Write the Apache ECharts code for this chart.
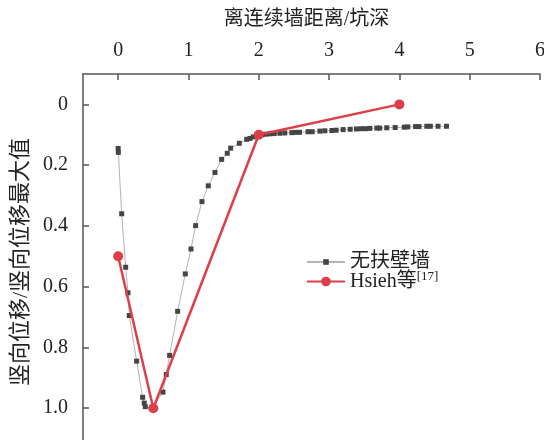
<!DOCTYPE html>
<html>
<head>
<meta charset="utf-8">
<style>
  html, body { margin: 0; padding: 0; background: #fff; }
  #chart { width: 544px; height: 440px; }
</style>
<script src="https://cdn.jsdelivr.net/npm/echarts@6/dist/echarts.min.js"></script>
</head>
<body>
<div id="chart"></div>
<script>
// Distance from the diaphragm wall divided by excavation depth
const xTicks = [0, 1, 2, 3, 4, 5, 6];
// Normalised settlement (settlement / maximum settlement)
const yTicks = [0, 0.2, 0.4, 0.6, 0.8, 1.0];

// Wall without buttresses: measured profile
const wallX = [0, 0.003, 0.05, 0.107, 0.14, 0.158, 0.263, 0.348, 0.371, 0.386, 0.48,
  0.637, 0.684, 0.732, 0.846, 0.955, 1.036, 1.102, 1.192, 1.282, 1.377, 1.472, 1.552,
  1.600, 1.723, 1.828, 1.875, 1.922, 1.98, 2.05, 2.10, 2.16, 2.22, 2.30, 2.37, 2.47,
  2.52, 2.58, 2.70, 2.76, 2.87, 2.94, 3.04, 3.10, 3.20, 3.30, 3.39, 3.46, 3.52, 3.58,
  3.68, 3.72, 3.82, 3.94, 4.07, 4.12, 4.23, 4.28, 4.39, 4.44, 4.55, 4.67];
const wallY = [0.145, 0.158, 0.36, 0.536, 0.62, 0.695, 0.845, 0.964, 0.983, 0.995, 1.0,
  0.947, 0.889, 0.826, 0.681, 0.558, 0.476, 0.399, 0.320, 0.268, 0.224, 0.181, 0.161,
  0.144, 0.128, 0.115, 0.112, 0.107, 0.102, 0.100, 0.098, 0.097, 0.096, 0.095, 0.094, 0.093,
  0.092, 0.092, 0.090, 0.090, 0.088, 0.087, 0.086, 0.085, 0.083, 0.082, 0.081, 0.080, 0.080, 0.079,
  0.078, 0.078, 0.077, 0.076, 0.075, 0.074, 0.073, 0.073, 0.072, 0.072, 0.072, 0.072];

// Hsieh envelope
const hsiehX = [0, 0.5, 2, 4];
const hsiehY = [0.5, 1.0, 0.1, 0];

const seriesNames = ['无扶壁墙', 'Hsieh等[17]'];

const FONT = '"Liberation Serif", "Noto Sans CJK SC", serif';
const TEXT = '#222';
const AXIS = '#555';
const RED = '#dc3f48';

const zip = (xs, ys) => xs.map((x, i) => [x, ys[i]]);

const legendText = {
  fontFamily: FONT, fontSize: 20, color: TEXT,
  rich: {
    sup: { fontFamily: FONT, fontSize: 13, color: TEXT, padding: [0, 0, 10, 0] }
  }
};

const chart = echarts.init(document.getElementById('chart'), null, { renderer: 'canvas' });
chart.setOption({
  animation: false,
  backgroundColor: '#fff',
  textStyle: { fontFamily: FONT, color: TEXT },
  grid: { left: 83, top: 74, width: 457, height: 395, outerBoundsMode: 'none', containLabel: false },
  legend: [
    {
      // small square marker for the measured profile
      left: 301,
      top: 247,
      itemWidth: 38,
      itemHeight: 7,
      textStyle: legendText,
      data: [seriesNames[0]]
    },
    {
      left: 301,
      top: 265,
      itemWidth: 38,
      itemHeight: 12,
      textStyle: legendText,
      formatter: () => 'Hsieh等{sup|[17]}',
      data: [seriesNames[1]]
    }
  ],
  xAxis: {
    type: 'value',
    position: 'top',
    min: -0.5,
    max: 6,
    name: '离连续墙距离/坑深',
    nameLocation: 'middle',
    nameGap: 44,
    nameTextStyle: { fontFamily: FONT, fontSize: 20, color: TEXT, padding: [0, 10, 0, 0] },
    axisLine: { show: true, onZero: false, lineStyle: { color: AXIS, width: 1.5 } },
    axisTick: { show: true, inside: true, length: 6, customValues: xTicks, lineStyle: { color: AXIS, width: 1.5 } },
    axisLabel: { customValues: xTicks, fontFamily: FONT, fontSize: 20, color: TEXT, margin: 13 },
    splitLine: { show: false }
  },
  yAxis: {
    type: 'value',
    inverse: true,
    min: -0.1,
    max: 1.2,
    name: '竖向位移/竖向位移最大值',
    nameLocation: 'middle',
    nameGap: 51,
    nameRotate: 90,
    nameTextStyle: { fontFamily: FONT, fontSize: 22, color: TEXT, padding: [0, 0, 0, 19] },
    axisLine: { show: true, onZero: false, lineStyle: { color: AXIS, width: 1.5 } },
    axisTick: { show: true, inside: true, length: 6, customValues: yTicks, lineStyle: { color: AXIS, width: 1.5 } },
    axisLabel: {
      customValues: yTicks, fontFamily: FONT, fontSize: 20, color: TEXT, margin: 15,
      formatter: v => (v === 0 ? '0' : v.toFixed(1))
    },
    splitLine: { show: false }
  },
  series: [
    {
      name: seriesNames[0],
      type: 'line',
      data: zip(wallX, wallY),
      symbol: 'rect',
      symbolSize: 5,
      itemStyle: { color: '#454545' },
      lineStyle: { color: '#b4b4b4', width: 1 },
      z: 2
    },
    {
      name: seriesNames[1],
      type: 'line',
      data: zip(hsiehX, hsiehY),
      symbol: 'circle',
      symbolSize: 10,
      itemStyle: { color: RED },
      lineStyle: { color: RED, width: 2.5 },
      z: 3
    }
  ]
});
</script>
</body>
</html>
